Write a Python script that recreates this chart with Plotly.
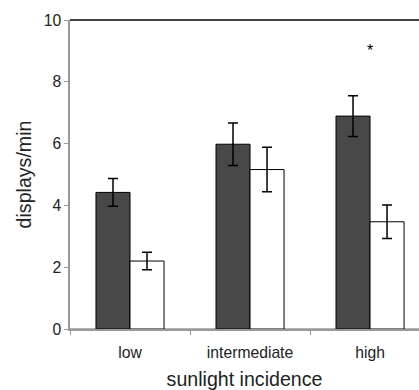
import plotly.graph_objects as go

categories = ["low", "intermediate", "high"]
dark_values = [4.42, 5.98, 6.89]
dark_errors = [0.45, 0.69, 0.66]
white_values = [2.20, 5.16, 3.47]
white_errors = [0.28, 0.72, 0.54]
y_ticks = [0, 2, 4, 6, 8, 10]

fig = go.Figure()
fig.add_trace(go.Bar(
    x=categories, y=dark_values,
    error_y=dict(type="data", array=dark_errors, color="black", thickness=1.5, width=5),
    marker=dict(color="#484848", line=dict(color="black", width=1)),
    showlegend=False,
))
fig.add_trace(go.Bar(
    x=categories, y=white_values,
    error_y=dict(type="data", array=white_errors, color="black", thickness=1.5, width=5),
    marker=dict(color="white", line=dict(color="black", width=1)),
    showlegend=False,
))

# top frame line (black) and extended bottom axis line (gray)
fig.add_shape(type="line", xref="paper", yref="paper", x0=0, x1=1.1, y0=1, y1=1,
              line=dict(color="black", width=1.5))
fig.add_shape(type="line", xref="paper", yref="paper", x0=0, x1=1.1, y0=0, y1=0,
              line=dict(color="#999", width=1.5), layer="below")
fig.add_annotation(x="high", y=9.02, text="*", showarrow=False,
                   font=dict(size=16, color="black"))

fig.update_layout(
    width=419, height=390,
    margin=dict(l=70, r=0, t=20, b=61),
    paper_bgcolor="white", plot_bgcolor="white",
    barmode="group", bargap=0.433, bargroupgap=0,
    font=dict(family="Liberation Sans, Arial, sans-serif", color="#222"),
)
fig.update_xaxes(
    type="category", range=[-0.5, 2.408],
    showline=True, linecolor="#999", linewidth=1.5,
    ticks="outside", tickson="boundaries", ticklen=4, tickcolor="#999",
    ticklabelstandoff=8,
    tickfont=dict(size=15.7, color="#222"),
    title=dict(text="sunlight incidence", font=dict(size=19.6, color="#222"), standoff=13),
    showgrid=False, zeroline=False,
)
fig.update_yaxes(
    range=[0, 10], tickvals=y_ticks,
    showline=True, linecolor="#999", linewidth=1.5,
    ticks="outside", ticklen=4, tickcolor="#999",
    tickfont=dict(size=15.7, color="#222"),
    title=dict(text="displays/min", font=dict(size=19.6, color="#222"), standoff=7),
    showgrid=False, zeroline=False,
)

fig.write_html(
    "out.html",
    config={"displayModeBar": False},
    post_script="document.body.style.margin='0';document.body.style.overflow='hidden';",
)
